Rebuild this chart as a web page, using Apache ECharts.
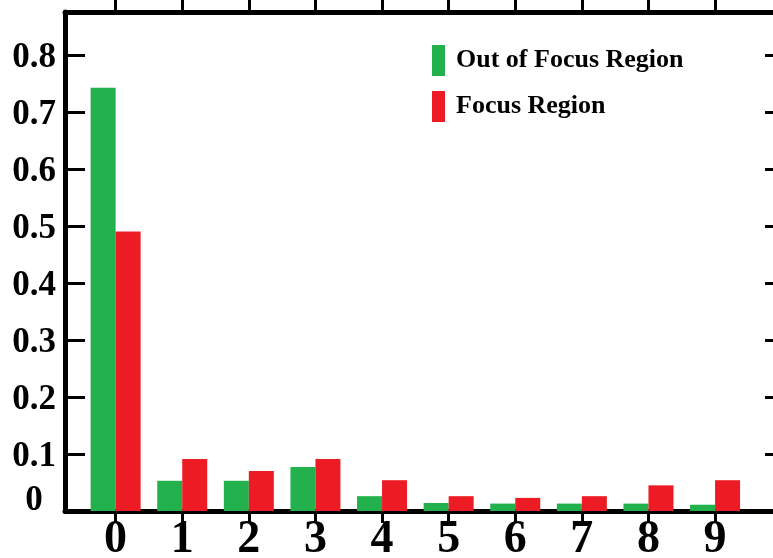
<!DOCTYPE html>
<html>
<head>
<meta charset="utf-8">
<title>Focus region distribution</title>
<script src="https://cdn.jsdelivr.net/npm/echarts@6/dist/echarts.min.js"></script>
<style>
  html, body { margin: 0; padding: 0; background: #ffffff; }
  #chart { width: 773px; height: 558px; }
</style>
</head>
<body>
<div id="chart"></div>
<script>
// Categories along the horizontal axis
const categories = [0, 1, 2, 3, 4, 5, 6, 7, 8, 9];
// Share of samples per category
const outOfFocus = [0.742, 0.053, 0.053, 0.077, 0.026, 0.014, 0.013, 0.013, 0.013, 0.011];
const focusRegion = [0.490, 0.091, 0.070, 0.091, 0.054, 0.026, 0.023, 0.026, 0.045, 0.054];
// Vertical tick labels
const yTickLabels = ['0', '0.1', '0.2', '0.3', '0.4', '0.5', '0.6', '0.7', '0.8'];
const seriesNames = ['Out of Focus Region', 'Focus Region'];

const GREEN = '#22B14C';
const RED = '#ED1C24';
const FONT = 'Liberation Serif';

const chart = echarts.init(document.getElementById('chart'), null, { renderer: 'canvas' });

const xCommon = {
  type: 'value',
  min: -0.76,
  max: 10.05,
  splitLine: { show: false },
  axisLine: { onZero: false, lineStyle: { color: '#000', width: 5 } }
};

const yCommon = {
  type: 'value',
  min: 0,
  max: 0.875,
  interval: 0.1,
  splitLine: { show: false },
  axisLine: { show: true, onZero: false, lineStyle: { color: '#000', width: 5 } },
  axisTick: { show: true, inside: true, length: 20, lineStyle: { color: '#000', width: 3 } }
};

chart.setOption({
  animation: false,
  backgroundColor: '#ffffff',
  grid: { left: 65, top: 12, width: 720, height: 499, containLabel: false, outerBoundsMode: 'none' },
  legend: {
    orient: 'vertical',
    left: 432,
    top: 45,
    padding: 0,
    itemWidth: 13,
    itemHeight: 31,
    itemGap: 15,
    icon: 'rect',
    data: seriesNames,
    textStyle: {
      fontFamily: FONT,
      fontWeight: 'bold',
      fontSize: 26,
      color: '#000',
      padding: [0, 0, 0, 6]
    }
  },
  xAxis: [
    Object.assign({}, xCommon, {
      position: 'bottom',
      axisTick: {
        show: true, inside: false, length: 12,
        customValues: categories,
        lineStyle: { color: '#000', width: 3 }
      },
      axisLabel: {
        customValues: categories,
        margin: 6,
        fontFamily: FONT,
        fontWeight: 'bold',
        fontSize: 46,
        color: '#000',
        formatter: v => String(v)
      }
    }),
    Object.assign({}, xCommon, {
      position: 'top',
      axisTick: {
        show: true, inside: false, length: 14,
        customValues: categories,
        lineStyle: { color: '#000', width: 3 }
      },
      axisLabel: { show: false }
    })
  ],
  yAxis: [
    Object.assign({}, yCommon, {
      position: 'left',
      axisLabel: {
        show: true,
        margin: 31,
        align: 'center',
        fontFamily: FONT,
        fontWeight: 'bold',
        fontSize: 35,
        color: '#000',
        formatter: function (v) {
          const i = Math.round(v * 10);
          const txt = yTickLabels[i] !== undefined ? yTickLabels[i] : '';
          return i === 0 ? '{z|' + txt + '}' : '{n|' + txt + '}';
        },
        rich: {
          z: { fontFamily: FONT, fontWeight: 'bold', fontSize: 35, color: '#000', padding: [0, 0, 20, 0] },
          n: { fontFamily: FONT, fontWeight: 'bold', fontSize: 35, color: '#000', padding: [6, 0, 0, 0] }
        }
      }
    }),
    Object.assign({}, yCommon, {
      position: 'right',
      axisLabel: { show: false }
    })
  ],
  series: [
    {
      name: seriesNames[0],
      type: 'bar',
      xAxisIndex: 0,
      yAxisIndex: 0,
      barWidth: 25,
      barGap: '0%',
      itemStyle: { color: GREEN },
      data: categories.map((c, i) => [c, outOfFocus[i]])
    },
    {
      name: seriesNames[1],
      type: 'bar',
      xAxisIndex: 0,
      yAxisIndex: 0,
      barWidth: 25,
      barGap: '0%',
      itemStyle: { color: RED },
      data: categories.map((c, i) => [c, focusRegion[i]])
    }
  ]
});
</script>
</body>
</html>
